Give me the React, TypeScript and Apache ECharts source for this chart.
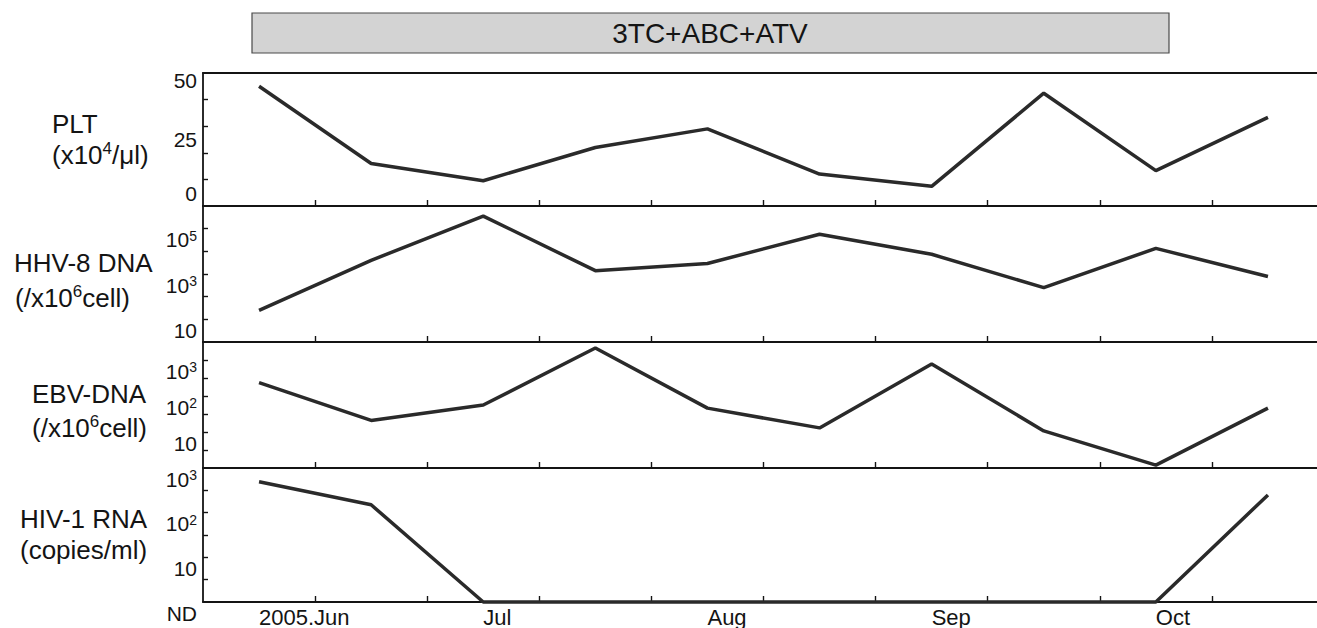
import React, { useEffect, useRef } from 'react';
import * as echarts from 'echarts';

// ---- data (sample index 0..9, roughly every half month) ----
const sampleIdx = [0, 1, 2, 3, 4, 5, 6, 7, 8, 9];
const pltValues = [45, 16, 9.5, 22, 29, 12, 7.4, 42.4, 13.3, 33.3];
const hhvValues = [25, 4000, 360000, 1400, 2900, 57000, 7400, 250, 13500, 780];
const ebvValues = [234, 21, 56, 2150, 46, 13, 775, 10.7, 1.2, 46];
const ND = 1;
const hivValues = [490, 150, ND, ND, ND, ND, ND, ND, ND, 250];

const monthLabels = ['2005.Jun', 'Jul', 'Aug', 'Sep', 'Oct'];
const monthStartIdx = [0, 2, 4, 6, 8];
const xTickPos = [0.5, 1.5, 2.5, 3.5, 4.5, 5.5, 6.5, 7.5, 8.5];

const pltLabels = [0, 25, 50];
const pltTicks = [10, 20, 30, 40];
const hhvLabels = [10, 1e3, 1e5];
const hhvTicks = [10, 1e2, 1e3, 1e4, 1e5];
const ebvLabels = [10, 1e2, 1e3];
const ebvTicks = [Math.pow(10, 0.5), 10, Math.pow(10, 1.5), 100, Math.pow(10, 2.5), 1000];
const hivLabels = [ND, 10, 1e2, 1e3];
const hivTicks = [Math.pow(10, 0.5), 10, Math.pow(10, 1.5), 100, Math.pow(10, 2.5)];

const titleText = '3TC+ABC+ATV';

const FONT = '"Liberation Sans", Arial, Helvetica, sans-serif';
const INK = '#141414';

export default function App() {
  const ref = useRef<HTMLDivElement>(null);

  useEffect(() => {
    if (!ref.current) return;
    const chart = echarts.init(ref.current, undefined, { renderer: 'svg' });

    const tops = [73, 206, 342, 468];
    const bottoms = [206, 342, 468, 605];
    const grids = tops.map((t, k) => ({ left: 203, right: 0, top: t, height: bottoms[k] - t }));

    const axisLine = { show: true, onZero: false, lineStyle: { color: INK, width: 1.8 } };
    const tickStyle = { color: INK, width: 1.4 };

    const xAxes: any[] = grids.map((_, k) => ({
      gridIndex: k,
      type: 'value',
      min: -0.5,
      max: 9.4375,
      position: 'bottom',
      axisLine,
      axisTick: { show: true, inside: true, length: 6, lineStyle: tickStyle, customValues: xTickPos },
      axisLabel:
        k === 3
          ? {
              show: true,
              customValues: monthStartIdx,
              align: 'left',
              margin: 4,
              color: INK,
              fontFamily: FONT,
              fontSize: 22,
              formatter: (v: number) => {
                const i = monthStartIdx.findIndex((m) => Math.abs(m - v) < 1e-6);
                return i >= 0 ? monthLabels[i] : '';
              },
            }
          : { show: false },
      splitLine: { show: false },
    }));
    xAxes.push({
      gridIndex: 0,
      type: 'value',
      min: -0.5,
      max: 9.4375,
      position: 'top',
      axisLine,
      axisTick: { show: false },
      axisLabel: { show: false },
      splitLine: { show: false },
    });

    const logRich = {
      b: { fontSize: 21, lineHeight: 22, fontFamily: FONT, color: INK },
      s: { fontSize: 14, lineHeight: 14, verticalAlign: 'top', fontFamily: FONT, color: INK },
    };
    const logFmt = (v: number) => {
      if (Math.abs(v - ND) < 1e-9) return '{b|ND}';
      const e = Math.round(Math.log10(v));
      return e === 1 ? '{b|10}' : `{b|10}{s|${e}}`;
    };
    const logAxis = (k: number, max: number, labels: number[], ticks: number[]) => ({
      gridIndex: k,
      type: 'log',
      logBase: 10,
      min: 1,
      max,
      axisLine,
      axisTick: { show: true, inside: true, length: 5, lineStyle: tickStyle, customValues: ticks },
      axisLabel: {
        customValues: labels,
        margin: 6,
        verticalAlign: 'top',
        formatter: logFmt,
        rich: logRich,
        color: INK,
        fontFamily: FONT,
        fontSize: 21,
      },
      splitLine: { show: false },
    });

    const yAxes: any[] = [
      {
        gridIndex: 0,
        type: 'value',
        min: 0,
        max: 50,
        axisLine,
        axisTick: { show: true, inside: true, length: 5, lineStyle: tickStyle, customValues: pltTicks },
        axisLabel: {
          customValues: pltLabels,
          margin: 6,
          color: INK,
          fontFamily: FONT,
          fontSize: 21,
          formatter: (v: number) => (v === 50 ? '{t|50}' : v === 0 ? '{z|0}' : `{b|${v}}`),
          rich: {
            b: { fontSize: 21, lineHeight: 22, fontFamily: FONT, color: INK },
            t: { fontSize: 21, lineHeight: 22, padding: [14, 0, 0, 0], fontFamily: FONT, color: INK },
            z: { fontSize: 21, lineHeight: 22, padding: [0, 0, 26, 0], fontFamily: FONT, color: INK },
          },
        },
        splitLine: { show: false },
      },
      logAxis(1, 1e6, hhvLabels, hhvTicks),
      logAxis(2, Math.pow(10, 3.5), ebvLabels, ebvTicks),
      logAxis(3, 1000.01, hivLabels, hivTicks),
    ];

    const allValues = [pltValues, hhvValues, ebvValues, hivValues];
    const series = allValues.map((vals, k) => ({
      type: 'line',
      xAxisIndex: k,
      yAxisIndex: k,
      data: sampleIdx.map((i) => [i, vals[i]]),
      symbol: 'none',
      clip: false,
      lineStyle: { color: '#2a2a2a', width: 3.5 },
      z: 3,
    }));

    const titleRich = {
      a: { fontSize: 26, lineHeight: 30, fontFamily: FONT, fill: INK, color: INK },
      s: { fontSize: 17, lineHeight: 17, verticalAlign: 'top', fontFamily: FONT, fill: INK, color: INK },
    };
    const sideText = (x: number, y: number, text: string) => ({
      type: 'text',
      x,
      y,
      style: {
        text,
        rich: titleRich,
        fontSize: 26,
        fontFamily: FONT,
        fill: INK,
        align: 'left',
        verticalAlign: 'middle',
      },
    });

    chart.setOption({
      animation: false,
      backgroundColor: '#ffffff',
      grid: grids,
      xAxis: xAxes,
      yAxis: yAxes,
      series,
      graphic: [
        {
          type: 'rect',
          shape: { x: 252, y: 13, width: 917, height: 40 },
          style: { fill: '#d3d3d3', stroke: '#4a4a4a', lineWidth: 1.2 },
        },
        {
          type: 'text',
          x: 710,
          y: 33,
          style: {
            text: titleText,
            fontSize: 28,
            fontFamily: FONT,
            fill: INK,
            align: 'center',
            verticalAlign: 'middle',
          },
        },
        sideText(52, 124, '{a|PLT}'),
        sideText(52, 155, '{a|(x10}{s|4}{a|/μl)}'),
        sideText(14, 263, '{a|HHV-8 DNA}'),
        sideText(15, 298, '{a|(/x10}{s|6}{a|cell)}'),
        sideText(32, 394, '{a|EBV-DNA}'),
        sideText(32, 428, '{a|(/x10}{s|6}{a|cell)}'),
        sideText(20, 519, '{a|HIV-1 RNA}'),
        sideText(20, 550, '{a|(copies/ml)}'),
      ],
    });

    return () => chart.dispose();
  }, []);

  return (
    <div
      ref={ref}
      style={{ position: 'absolute', left: 0, top: 0, width: 1317, height: 628, background: '#fff' }}
    />
  );
}
